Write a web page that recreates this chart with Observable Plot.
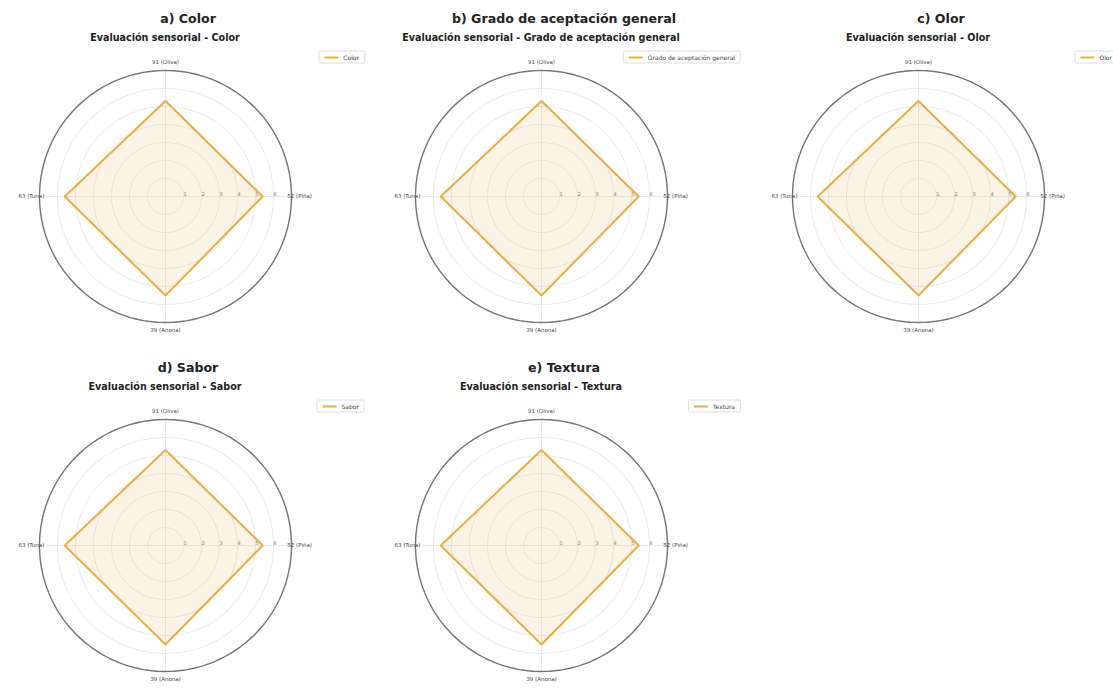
<!DOCTYPE html>
<html>
<head>
<meta charset="utf-8">
<script src="https://cdn.jsdelivr.net/npm/d3@7"></script>
<script src="https://cdn.jsdelivr.net/npm/@observablehq/plot@0.6"></script>
<style>
  body { margin: 0; width: 1113px; height: 689px; overflow: hidden; background: #fff;
         font-family: "DejaVu Sans", sans-serif; position: relative; }
  .panel { position: absolute; }
  .title { position: absolute; font-weight: bold; font-size: 12.6px; color: #222;
           white-space: nowrap; transform: translate(-50%, -50%); }
  .subtitle { position: absolute; font-weight: bold; font-size: 9.6px; color: #222;
              white-space: nowrap; transform: translate(-50%, -50%); }
  .legend { position: absolute; transform: translate(-100%, -50%); border: 1px solid #ddd;
            border-radius: 2px; background: #fff; padding: 2px 5px; font-size: 6px; color: #444;
            display: flex; align-items: center; gap: 5px; white-space: nowrap; }
  .legend i { display: inline-block; width: 14px; height: 2px; background: #E6B04E; }
</style>
</head>
<body>
<script>
// Muestras evaluadas (código y fruta), en sentido horario desde arriba
const muestras = ["91 (Oliva)", "52 (Piña)", "39 (Anona)", "63 (Tuna)"];

// Atributos sensoriales y letra de cada panel
const atributos = ["Color", "Grado de aceptación general", "Olor", "Sabor", "Textura"];
const letras = ["a)", "b)", "c)", "d)", "e)"];

// Puntaje medio por muestra (mismo orden que `muestras`)
const puntajeColor      = [5.3, 5.4, 5.5, 5.6];
const puntajeAceptacion = [5.3, 5.4, 5.5, 5.6];
const puntajeOlor       = [5.3, 5.4, 5.5, 5.6];
const puntajeSabor      = [5.3, 5.4, 5.5, 5.6];
const puntajeTextura    = [5.3, 5.4, 5.5, 5.6];
const puntajes = [puntajeColor, puntajeAceptacion, puntajeOlor, puntajeSabor, puntajeTextura];

// Círculos de la escala radial y etiquetas visibles
const escala = [1, 2, 3, 4, 5, 6, 7];
const etiquetasRadio = [1, 2, 3, 4, 5, 6];

// Centro de cada panel en la página
const centros = [[165, 196], [541, 196], [918, 196], [165, 545], [541, 545]];

const COLOR = "#E6B04E";
const SIZE = 300;          // lado del SVG de cada radar
const PX_POR_UNIDAD = 18;  // píxeles por punto de la escala
const L = SIZE / 2 / PX_POR_UNIDAD;
const rMax = d3.max(escala);

const ang = i => Math.PI / 2 - i * 2 * Math.PI / muestras.length;

function radar(valores) {
  const puntos = valores.map((v, i) => ({muestra: muestras[i], v, a: ang(i)}));
  const anillos = escala.flatMap(r => d3.range(0, 361, 2).map(g => ({r, a: g * Math.PI / 180})));
  const px = d => d.r * Math.cos(d.a), py = d => d.r * Math.sin(d.a);
  return Plot.plot({
    width: SIZE, height: SIZE, margin: 0,
    x: {domain: [-L, L], axis: null},
    y: {domain: [-L, L], axis: null},
    style: {overflow: "visible", fontFamily: "DejaVu Sans", background: "transparent"},
    marks: [
      Plot.line(anillos.filter(d => d.r < rMax), {x: px, y: py, z: "r", stroke: "#e3e3e3", strokeWidth: 0.8}),
      Plot.link(muestras, {
        x1: () => 0, y1: () => 0,
        x2: (m, i) => rMax * Math.cos(ang(i)), y2: (m, i) => rMax * Math.sin(ang(i)),
        stroke: "#e3e3e3", strokeWidth: 0.8
      }),
      Plot.text(etiquetasRadio, {x: d => d, y: () => 0, text: d => String(d), fontSize: 5, fill: "#777", dx: 1.5, dy: -2}),
      Plot.line(puntos, {
        x: d => d.v * Math.cos(d.a), y: d => d.v * Math.sin(d.a),
        curve: "linear-closed", fill: COLOR, fillOpacity: 0.15,
        stroke: COLOR, strokeWidth: 2.1, strokeLinejoin: "miter"
      }),
      Plot.line(anillos.filter(d => d.r === rMax), {x: px, y: py, stroke: "#747474", strokeWidth: 1.4}),
      Plot.text(muestras, {
        x: (m, i) => 7.45 * Math.cos(ang(i)), y: (m, i) => 7.45 * Math.sin(ang(i)),
        text: d => d, fontSize: 5.5, fill: "#444"
      })
    ]
  });
}

atributos.forEach((nombre, k) => {
  const [cx, cy] = centros[k];

  const svg = radar(puntajes[k]);
  svg.classList.add("panel");
  svg.style.left = (cx - SIZE / 2) + "px";
  svg.style.top = (cy - SIZE / 2) + "px";
  document.body.appendChild(svg);

  const t = document.createElement("div");
  t.className = "title";
  t.textContent = `${letras[k]} ${nombre}`;
  t.style.left = (cx + 23) + "px";
  t.style.top = (cy - 178) + "px";
  document.body.appendChild(t);

  const s = document.createElement("div");
  s.className = "subtitle";
  s.textContent = `Evaluación sensorial - ${nombre}`;
  s.style.left = cx + "px";
  s.style.top = (cy - 159) + "px";
  document.body.appendChild(s);

  const lg = document.createElement("div");
  lg.className = "legend";
  lg.innerHTML = `<i></i><span>${nombre}</span>`;
  lg.style.left = (cx + 200) + "px";
  lg.style.top = (cy - 139) + "px";
  document.body.appendChild(lg);
});
</script>
</body>
</html>
